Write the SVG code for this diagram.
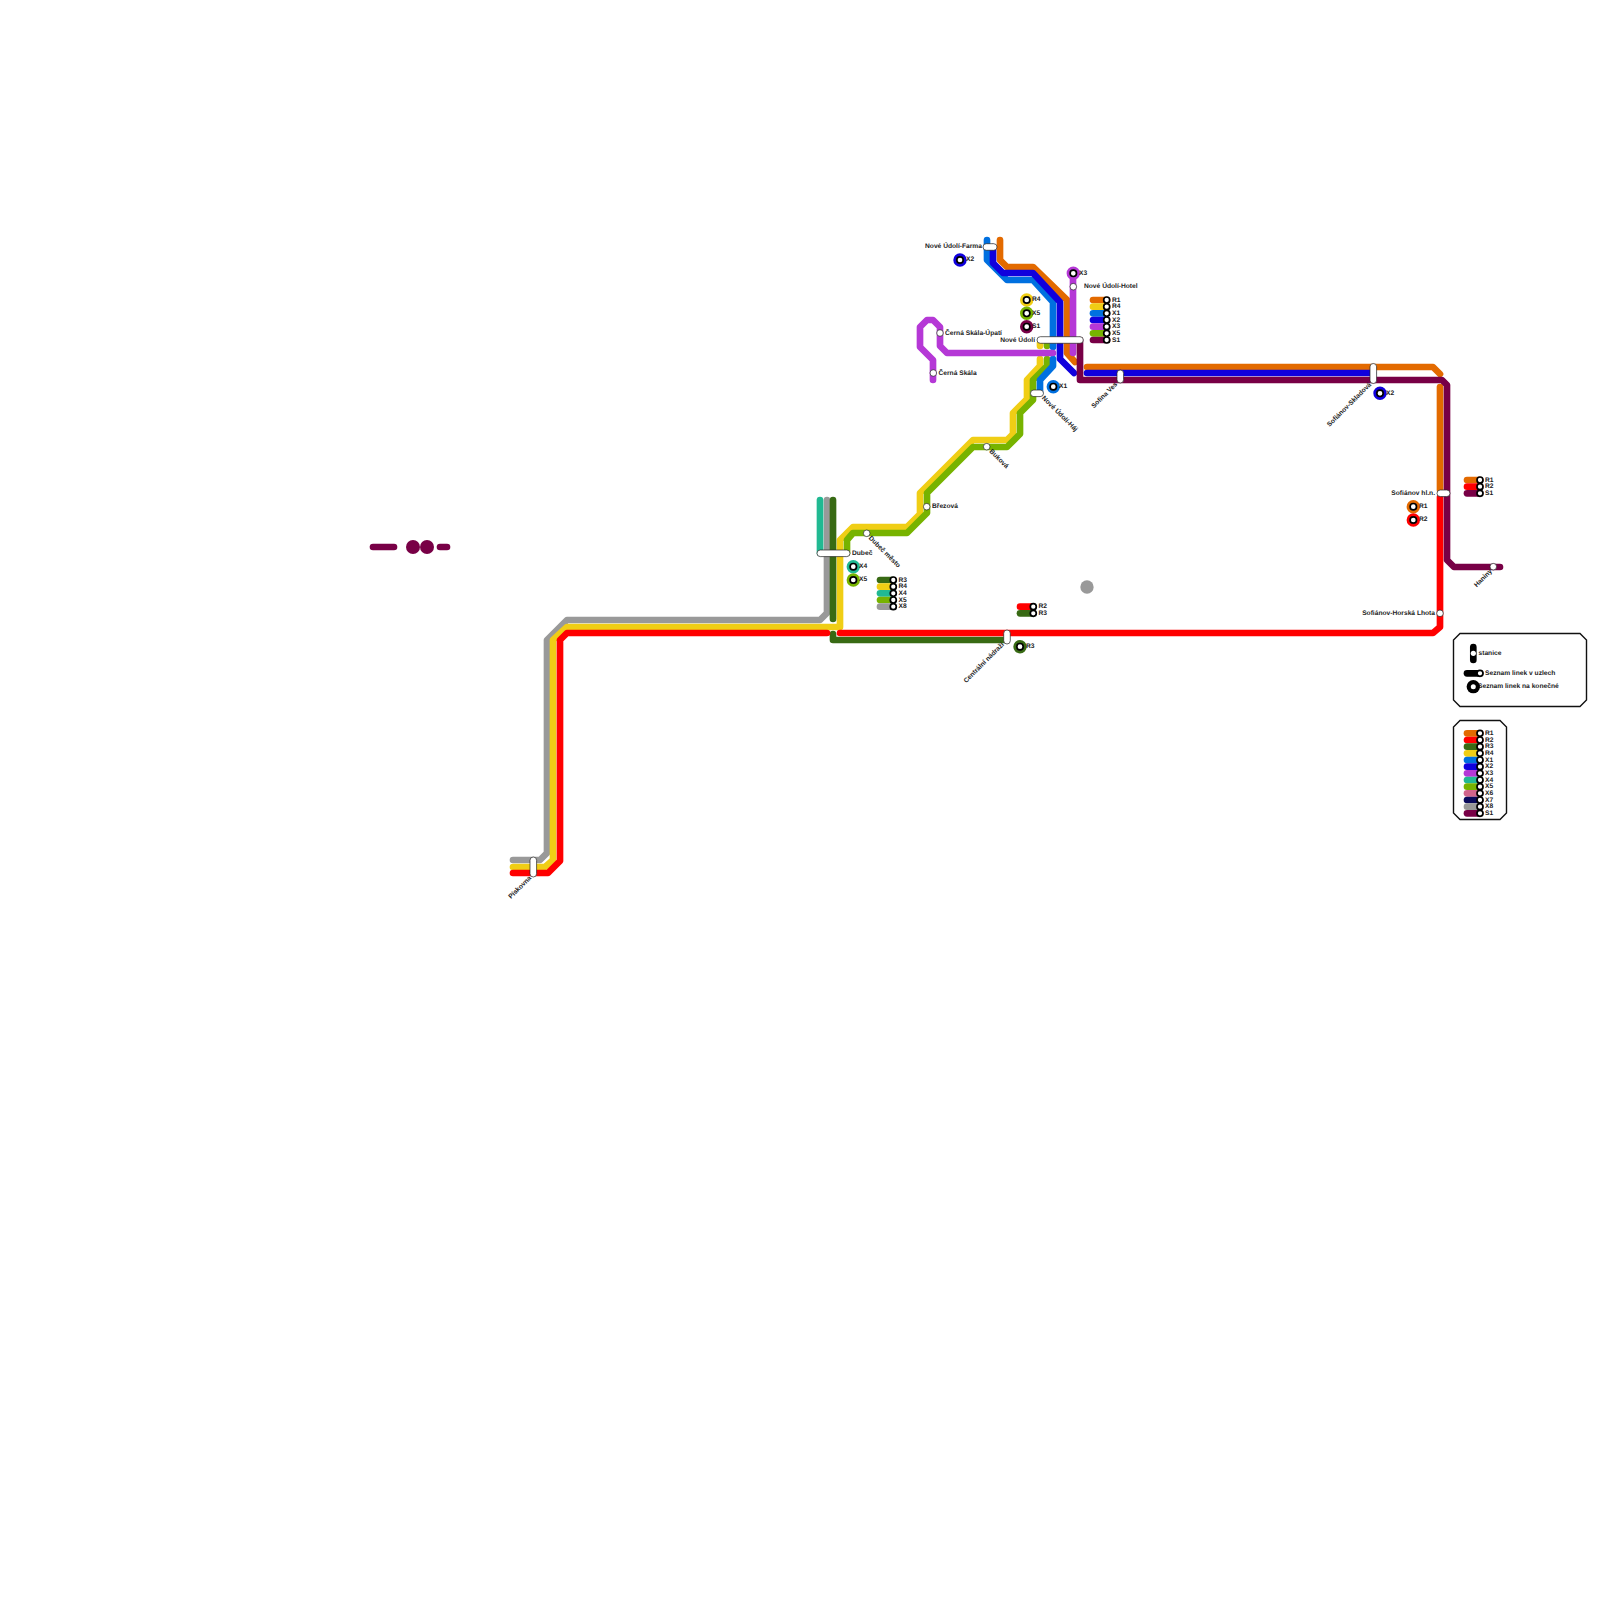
<svg xmlns="http://www.w3.org/2000/svg" width="1600" height="1600" viewBox="0 0 1600 1600">
<style>
text{font-family:"Liberation Sans",Arial,sans-serif;font-size:6.67px;font-weight:700;fill:#222;text-rendering:geometricPrecision;opacity:.999}
text[x]{transform:translateY(-.6px)}
.e{text-anchor:end}
.l{fill:none;stroke-width:6.67;stroke-linecap:round;stroke-linejoin:round}
.s{fill:#fff;stroke:#222;stroke-width:.7}
.k{fill:#fff;stroke:#000;stroke-width:1.7}
.r1{stroke:#e36a00}.r2{stroke:#f00}.r3{stroke:#386a14}.r4{stroke:#f0ce15}.x1{stroke:#0070e0}.x2{stroke:#1000dd}.x3{stroke:#b538d6}.x4{stroke:#21b992}.x5{stroke:#77b300}.x6{stroke:#d1648c}.x7{stroke:#0a0a5c}.x8{stroke:#999}.s1{stroke:#780046}
.o{fill:none;stroke-width:3.4}
.box{fill:#fff;stroke:#111;stroke-width:1.4}
</style>
<rect width="1600" height="1600" fill="#fff"/>
<g id="connectors">
<path class="l x8" d="M513 860H540L547 853V640L567 620H820L827 613V500"/>
<path class="l r4" d="M513 867H545L553 860V640L567 627H840V540L853 527H907L920 514V493L973 440H1007L1013 434V413L1027 399V380L1040 366V359"/>
<path class="l r4" d="M1040 343V346"/>
<path class="l x5" d="M847 553V540L853 533H907L927 513V493L973 447H1007L1020 434V413L1033 400V380L1047 366V359"/>
<path class="l x5" d="M1047 343V346"/>
<path class="l x4" d="M820 500V553"/>
<path class="l r3" d="M833 500V619"/>
<path class="l r3" d="M833 634V640H1005"/>
<path class="l r2" d="M513 873H548L560 861V640L567 633H827"/>
<path class="l r2" d="M840 633H1433L1440 627V497"/>
<path class="l x1" d="M987 240V260L1007 280H1033L1053 302V347"/>
<path class="l x1" d="M1053 359V366L1040 380V393"/>
<path class="l r1" d="M1000 240V260L1007 267H1033L1067 300V353L1075 362"/>
<path class="l r1" d="M1087 367H1433L1440 374"/>
<path class="l r1" d="M1440 387V490"/>
<path class="l x2" d="M993 247V263L1003 273H1033L1060 302V359L1074 373"/>
<path class="l x2" d="M1087 373H1373"/>
<path class="l x3" d="M1073 273V353"/>
<path class="l x3" d="M1053 353H947L940 346V327L933 320H927L920 327V347L933 360V380"/>
<path class="l s1" d="M1080 340V380H1442L1447 385V560L1454 567H1500"/>
<path class="l s1" d="M373 547H394"/>
<path class="l s1" d="M440 547H447"/>
</g>
<g id="decor">
<circle cx="413" cy="547" r="7" fill="#780046"/><circle cx="427" cy="547" r="7" fill="#780046"/>
<circle cx="1087" cy="587" r="6.67" fill="#999"/>
</g>
<g id="node-nove-udoli-farma"><rect class="s" x="983" y="243.700" width="14" height="6.600" rx="3.300"/><text class="e" x="982" y="248.500">Nové Údolí-Farma</text></g>
<g id="node-nove-udoli-hotel"><circle class="s" cx="1073.300" cy="286.700" r="3.300"/><text x="1084" y="288.500">Nové Údolí-Hotel</text></g>
<g id="node-cerna-skala-upati"><circle class="s" cx="940" cy="333" r="3.300"/><text x="945" y="335.300">Černá Skála-Úpatí</text></g>
<g id="node-cerna-skala"><circle class="s" cx="933.300" cy="373" r="3.300"/><text x="938.500" y="375.300">Černá Skála</text></g>
<g id="node-nove-udoli"><rect class="s" x="1037" y="336.700" width="46.300" height="6.600" rx="3.300"/><text class="e" x="1035" y="342.300">Nové Údolí</text></g>
<g id="node-nove-udoli-haj"><rect class="s" x="1030.500" y="390" width="13" height="6.600" rx="3.300"/><text transform="translate(1041.600 398.400) rotate(45)">Nové Údolí-Háj</text></g>
<g id="node-sofina-ves"><rect class="s" x="1117" y="370" width="6.600" height="13" rx="3.300"/><text class="e" transform="translate(1117.700 384.700) rotate(-45)">Sofina Ves</text></g>
<g id="node-bukova"><circle class="s" cx="986.700" cy="446.700" r="3.300"/><text transform="translate(989 451.700) rotate(45)">Buková</text></g>
<g id="node-brezova"><circle class="s" cx="926.700" cy="506.700" r="3.300"/><text x="932" y="509">Březová</text></g>
<g id="node-dubec-mesto"><circle class="s" cx="866.700" cy="533.300" r="3.300"/><text transform="translate(868.300 538.400) rotate(45)">Dubeč město</text></g>
<g id="node-dubec"><rect class="s" x="817" y="550" width="33" height="6.600" rx="3.300"/><text x="852" y="555.300">Dubeč</text></g>
<g id="node-centralni-nadrazi"><rect class="s" x="1003.700" y="630" width="6.600" height="14" rx="3.300"/><text class="e" transform="translate(1004.400 645) rotate(-45)">Centrální nádraží</text></g>
<g id="node-sofianov-skladova"><rect class="s" x="1370" y="363.500" width="6.600" height="20" rx="3.300"/><text class="e" transform="translate(1371.700 385) rotate(-45)">Sofiánov-Skladová</text></g>
<g id="node-sofianov-hl"><rect class="s" x="1437" y="490" width="13" height="6.600" rx="3.300"/><text class="e" x="1435" y="495.300">Sofiánov hl.n.</text></g>
<g id="node-haniny"><circle class="s" cx="1493.300" cy="566.700" r="3.300"/><text class="e" transform="translate(1492.400 571.700) rotate(-45)">Haniny</text></g>
<g id="node-sofianov-horska-lhota"><circle class="s" cx="1440" cy="613.300" r="3.300"/><text class="e" x="1435" y="615.300">Sofiánov-Horská Lhota</text></g>
<g id="node-piskovna"><rect class="s" x="530" y="857" width="6.600" height="20" rx="3.300"/><text class="e" transform="translate(531.700 878.400) rotate(-45)">Pískovna</text></g>
<g id="terminals">
<g id="term-x2a"><circle cx="960" cy="260" r="5" class="o x2"/><circle cx="960" cy="260" r="3.200" class="k"/><text x="966" y="262">X2</text></g>
<g id="term-x3"><circle cx="1073.300" cy="273.300" r="5" class="o x3"/><circle cx="1073.300" cy="273.300" r="3.200" class="k"/><text x="1079" y="275.500">X3</text></g>
<g id="term-r4"><circle cx="1026.700" cy="300" r="5" class="o r4"/><circle cx="1026.700" cy="300" r="3.200" class="k"/><text x="1032" y="302">R4</text></g>
<g id="term-x5a"><circle cx="1026.700" cy="313.300" r="5" class="o x5"/><circle cx="1026.700" cy="313.300" r="3.200" class="k"/><text x="1032" y="315.500">X5</text></g>
<g id="term-s1"><circle cx="1026.700" cy="326.700" r="5" class="o s1"/><circle cx="1026.700" cy="326.700" r="3.200" class="k"/><text x="1032" y="329">S1</text></g>
<g id="term-x1"><circle cx="1053.300" cy="386.700" r="5" class="o x1"/><circle cx="1053.300" cy="386.700" r="3.200" class="k"/><text x="1059" y="389">X1</text></g>
<g id="term-x4"><circle cx="853.300" cy="566.700" r="5" class="o x4"/><circle cx="853.300" cy="566.700" r="3.200" class="k"/><text x="859" y="569">X4</text></g>
<g id="term-x5b"><circle cx="853.300" cy="580" r="5" class="o x5"/><circle cx="853.300" cy="580" r="3.200" class="k"/><text x="859" y="582">X5</text></g>
<g id="term-r3"><circle cx="1020" cy="646.700" r="5" class="o r3"/><circle cx="1020" cy="646.700" r="3.200" class="k"/><text x="1026" y="649">R3</text></g>
<g id="term-x2b"><circle cx="1380" cy="393.300" r="5" class="o x2"/><circle cx="1380" cy="393.300" r="3.200" class="k"/><text x="1386" y="395.500">X2</text></g>
<g id="term-r1"><circle cx="1413.300" cy="506.700" r="5" class="o r1"/><circle cx="1413.300" cy="506.700" r="3.200" class="k"/><text x="1419" y="509">R1</text></g>
<g id="term-r2"><circle cx="1413.300" cy="520" r="5" class="o r2"/><circle cx="1413.300" cy="520" r="3.200" class="k"/><text x="1419" y="522">R2</text></g>
</g>
<g id="list-nove-udoli">
<path class="l r1" d="M1093 300H1107"/><path class="l r4" d="M1093 306.700H1107"/><path class="l x1" d="M1093 313.300H1107"/><path class="l x2" d="M1093 320H1107"/><path class="l x3" d="M1093 326.700H1107"/><path class="l x5" d="M1093 333.300H1107"/><path class="l s1" d="M1093 340H1107"/>
<circle class="k" cx="1106.700" cy="300" r="3"/><circle class="k" cx="1106.700" cy="306.700" r="3"/><circle class="k" cx="1106.700" cy="313.300" r="3"/><circle class="k" cx="1106.700" cy="320" r="3"/><circle class="k" cx="1106.700" cy="326.700" r="3"/><circle class="k" cx="1106.700" cy="333.300" r="3"/><circle class="k" cx="1106.700" cy="340" r="3"/>
<text x="1112" y="302.300">R1</text><text x="1112" y="309">R4</text><text x="1112" y="315.600">X1</text><text x="1112" y="322.300">X2</text><text x="1112" y="329">X3</text><text x="1112" y="335.600">X5</text><text x="1112" y="342.300">S1</text>
</g>
<g id="list-dubec">
<path class="l r3" d="M880 580H893"/><path class="l r4" d="M880 586.700H893"/><path class="l x4" d="M880 593.300H893"/><path class="l x5" d="M880 600H893"/><path class="l x8" d="M880 606.700H893"/>
<circle class="k" cx="893.300" cy="580" r="3"/><circle class="k" cx="893.300" cy="586.700" r="3"/><circle class="k" cx="893.300" cy="593.300" r="3"/><circle class="k" cx="893.300" cy="600" r="3"/><circle class="k" cx="893.300" cy="606.700" r="3"/>
<text x="898.500" y="582.300">R3</text><text x="898.500" y="589">R4</text><text x="898.500" y="595.600">X4</text><text x="898.500" y="602.300">X5</text><text x="898.500" y="609">X8</text>
</g>
<g id="list-centralni">
<path class="l r2" d="M1020 606.700H1033"/><path class="l r3" d="M1020 613.300H1033"/>
<circle class="k" cx="1033.300" cy="606.700" r="3"/><circle class="k" cx="1033.300" cy="613.300" r="3"/>
<text x="1038.500" y="609">R2</text><text x="1038.500" y="615.600">R3</text>
</g>
<g id="list-sofianov">
<path class="l r1" d="M1467 480H1480"/><path class="l r2" d="M1467 486.700H1480"/><path class="l s1" d="M1467 493.300H1480"/>
<circle class="k" cx="1480" cy="480" r="3"/><circle class="k" cx="1480" cy="486.700" r="3"/><circle class="k" cx="1480" cy="493.300" r="3"/>
<text x="1485" y="482.300">R1</text><text x="1485" y="489">R2</text><text x="1485" y="495.600">S1</text>
</g>
<g id="legend-key">
<path class="box" d="M1460 633.500H1580L1586.500 640V700L1580 706.500H1460L1453.500 700V640Z"/>
<path class="l" stroke="#000" d="M1473.300 647V660"/><circle cx="1473.300" cy="653.300" r="2.600" fill="#fff"/><text x="1478.500" y="655.500">stanice</text>
<path class="l" stroke="#000" d="M1467 673.300H1480"/><circle class="k" cx="1480" cy="673.300" r="3"/><text x="1485" y="675.500">Seznam linek v uzlech</text>
<text x="1478" y="688.700">Seznam linek na konečné</text><circle cx="1473.300" cy="686.700" r="6.670" fill="#000"/><circle cx="1473.300" cy="686.700" r="2.500" fill="#fff"/>
</g>
<g id="legend-lines">
<path class="box" d="M1460 720.500H1500L1506.500 727V813L1500 819.500H1460L1453.500 813V727Z"/>
<path class="l r1" d="M1467 733.300H1480"/><path class="l r2" d="M1467 740H1480"/><path class="l r3" d="M1467 746.700H1480"/><path class="l r4" d="M1467 753.300H1480"/><path class="l x1" d="M1467 760H1480"/><path class="l x2" d="M1467 766.700H1480"/><path class="l x3" d="M1467 773.300H1480"/><path class="l x4" d="M1467 780H1480"/><path class="l x5" d="M1467 786.700H1480"/><path class="l x6" d="M1467 793.300H1480"/><path class="l x7" d="M1467 800H1480"/><path class="l x8" d="M1467 806.700H1480"/><path class="l s1" d="M1467 813.300H1480"/>
<circle class="k" cx="1480" cy="733.300" r="3"/><circle class="k" cx="1480" cy="740" r="3"/><circle class="k" cx="1480" cy="746.700" r="3"/><circle class="k" cx="1480" cy="753.300" r="3"/><circle class="k" cx="1480" cy="760" r="3"/><circle class="k" cx="1480" cy="766.700" r="3"/><circle class="k" cx="1480" cy="773.300" r="3"/><circle class="k" cx="1480" cy="780" r="3"/><circle class="k" cx="1480" cy="786.700" r="3"/><circle class="k" cx="1480" cy="793.300" r="3"/><circle class="k" cx="1480" cy="800" r="3"/><circle class="k" cx="1480" cy="806.700" r="3"/><circle class="k" cx="1480" cy="813.300" r="3"/>
<text x="1485" y="735.600">R1</text><text x="1485" y="742.300">R2</text><text x="1485" y="749">R3</text><text x="1485" y="755.600">R4</text><text x="1485" y="762.300">X1</text><text x="1485" y="769">X2</text><text x="1485" y="775.600">X3</text><text x="1485" y="782.300">X4</text><text x="1485" y="789">X5</text><text x="1485" y="795.600">X6</text><text x="1485" y="802.300">X7</text><text x="1485" y="809">X8</text><text x="1485" y="815.600">S1</text>
</g>
</svg>
